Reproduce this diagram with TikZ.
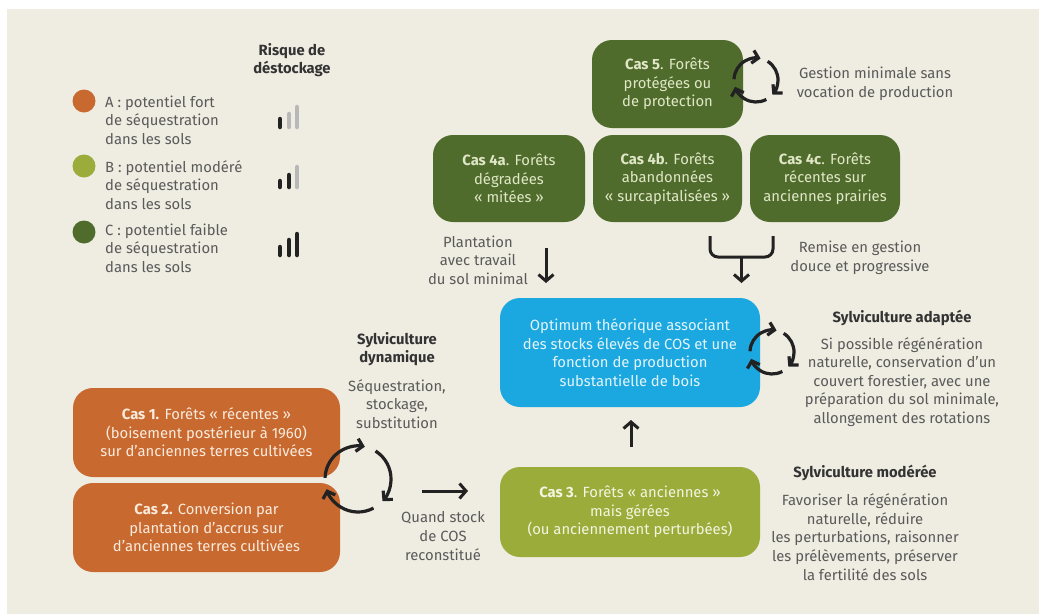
\documentclass[tikz,border=0pt]{standalone}
\usepackage{fontspec}
\setmainfont{Fira Sans}
\usetikzlibrary{arrows.meta}
\definecolor{bgpanel}{HTML}{EFECE1}
\definecolor{orangebox}{HTML}{C86930}
\definecolor{darkgreen}{HTML}{506C2D}
\definecolor{olive}{HTML}{9BAC3A}
\definecolor{bluebox}{HTML}{1BA8E0}
\definecolor{graytext}{HTML}{5A5A5A}
\definecolor{headtext}{HTML}{333333}
\definecolor{inkblack}{HTML}{222222}
\definecolor{barlight}{HTML}{B8B8B8}
\definecolor{greentext}{HTML}{E0E7C6}
\definecolor{orangetext}{HTML}{FAEBDD}
\definecolor{olivetext}{HTML}{F3F5E0}
\definecolor{bluetext}{HTML}{E3F4FB}
\newcommand\boxfont{\fontsize{14.8}{18.6}\selectfont}
\newcommand\descfont{\fontsize{14.8}{18.6}\selectfont}
\tikzset{
  casebox/.style={rounded corners=20pt, inner sep=0pt, align=center, font=\boxfont},
  desc/.style={inner sep=0pt, align=center, font=\descfont, text=graytext},
  head/.style={inner sep=0pt, align=center, font=\descfont\bfseries, text=headtext},
  legtext/.style={inner sep=0pt, align=left, font=\descfont, text=graytext, anchor=west},
  legdot/.style={circle, inner sep=0pt, minimum size=23pt},
  cycarrow/.style={line width=3.2pt, draw=inkblack, -{Straight Barb[length=6pt,width=13pt]}},
  flowarrow/.style={line width=3pt, draw=inkblack, -{Straight Barb[length=6.5pt,width=15pt]}},
  bar/.style={line width=4.5pt, line cap=round},
}
\newcommand\cyclemark[3]{%
  \foreach \aa in {0,120,240}{%
    \draw[cycarrow] ([shift={(178-\aa:#3pt)}]#1,#2) arc[start angle=178-\aa, end angle=78-\aa, radius=#3pt];
  }%
}
\begin{document}
\begin{tikzpicture}[x=1pt,y=-1pt]
\useasboundingbox (0,0) rectangle (1039,614);
\fill[white] (0,0) rectangle (1039,614);
\fill[bgpanel] (7,9) rectangle (1039,614);

% ---------- legend ----------
\node[head] (legtitle) at (292,60) {Risque de\\déstockage};
\node[legdot, fill=orangebox] (dotA) at (84,101) {};
\node[legdot, fill=olive] (dotB) at (84,166) {};
\node[legdot, fill=darkgreen] (dotC) at (84,232) {};
\node[legtext] (legA) at (105,120) {A : potentiel fort\\de séquestration\\dans les sols};
\node[legtext] (legB) at (105,185) {B : potentiel modéré\\de séquestration\\dans les sols};
\node[legtext] (legC) at (105,248) {C : potentiel faible\\de séquestration\\dans les sols};
% risk bars
\draw[bar, inkblack] (280,119) -- (280,127);
\draw[bar, barlight] (289,114) -- (289,127);
\draw[bar, barlight] (297,107) -- (297,127);
\draw[bar, inkblack] (280,181) -- (280,187);
\draw[bar, inkblack] (289,175) -- (289,187);
\draw[bar, barlight] (297,167) -- (297,187);
\draw[bar, inkblack] (280,247) -- (280,255);
\draw[bar, inkblack] (289,240) -- (289,255);
\draw[bar, inkblack] (297,234) -- (297,255);

% ---------- top boxes ----------
\node[casebox, fill=darkgreen, text=greentext, minimum width=151pt, minimum height=88pt] (cas5) at (667.5,84)
  {\textbf{Cas 5}. Forêts\\protégées ou\\de protection};
\cyclemark{756}{80}{22}
\node[desc] (gestion) at (875,84) {Gestion minimale sans\\vocation de production};

\node[casebox, fill=darkgreen, text=greentext, minimum width=152pt, minimum height=87pt] (cas4a) at (509,178.5)
  {\textbf{Cas 4a}. Forêts\\dégradées\\« mitées »};
\node[casebox, fill=darkgreen, text=greentext, minimum width=149pt, minimum height=87pt] (cas4b) at (667.5,178.5)
  {\textbf{Cas 4b}. Forêts\\abandonnées\\« surcapitalisées »};
\node[casebox, fill=darkgreen, text=greentext, minimum width=150pt, minimum height=87pt] (cas4c) at (825,178.5)
  {\textbf{Cas 4c}. Forêts\\récentes sur\\anciennes prairies};

\node[desc] (plantation) at (478,260) {Plantation\\avec travail\\du sol minimal};
\coordinate (arrAtop) at (546,248);
\coordinate (arrAbot) at (546,283);
\draw[flowarrow] (arrAtop) -- (arrAbot);

\coordinate (brL) at (710,236);
\coordinate (brR) at (773,236);
\coordinate (brM) at (741.5,257);
\coordinate (brEnd) at (741.5,283);
\draw[line width=3pt, draw=inkblack, rounded corners=8pt] (brL) -- (710,257) -- (773,257) -- (brR);
\draw[flowarrow] (brM) -- (brEnd);
\node[desc] (remise) at (860,258) {Remise en gestion\\douce et progressive};

% ---------- central box ----------
\node[casebox, fill=bluebox, text=bluetext, minimum width=260pt, minimum height=109pt] (optimum) at (630,352.5)
  {Optimum théorique associant\\des stocks élevés de COS et une\\fonction de production\\substantielle de bois};
\cyclemark{772}{352}{22}
\node[head] (adaptee) at (902,318) {Sylviculture adaptée};
\node[desc] (adapteetxt) at (902,382) {Si possible régénération\\naturelle, conservation d’un\\couvert forestier, avec une\\préparation du sol minimale,\\allongement des rotations};

% ---------- Cas 3 ----------
\node[casebox, fill=olive, text=olivetext, minimum width=260pt, minimum height=90pt] (cas3) at (630,512)
  {\textbf{Cas 3}. Forêts « anciennes »\\mais gérées\\(ou anciennement perturbées)};
\coordinate (upA) at (631,447);
\coordinate (upB) at (631,420);
\draw[flowarrow] (upA) -- (upB);
\node[head] (moderee) at (865,473) {Sylviculture modérée};
\node[desc] (modereetxt) at (865,537) {Favoriser la régénération\\naturelle, réduire\\les perturbations, raisonner\\les prélèvements, préserver\\la fertilité des sols};

% ---------- Cas 1 / Cas 2 ----------
\node[casebox, fill=orangebox, text=orangetext, minimum width=267pt, minimum height=89pt] (cas1) at (206.5,432.5)
  {\textbf{Cas 1.} Forêts « récentes »\\(boisement postérieur à 1960)\\sur d’anciennes terres cultivées};
\node[casebox, fill=orangebox, text=orangetext, minimum width=267pt, minimum height=89pt] (cas2) at (206.5,527.5)
  {\textbf{Cas 2.} Conversion par\\plantation d’accrus sur\\d’anciennes terres cultivées};
\cyclemark{358}{479}{33}
\node[head] (dynamique) at (397,349) {Sylviculture\\dynamique};
\node[desc] (dynamiquetxt) at (397,404) {Séquestration,\\stockage,\\substitution};
\coordinate (rA) at (422,491);
\coordinate (rB) at (468,491);
\draw[flowarrow] (rA) -- (rB);
\node[desc] (quand) at (443,536) {Quand stock\\de COS\\reconstitué};
\end{tikzpicture}
\end{document}
